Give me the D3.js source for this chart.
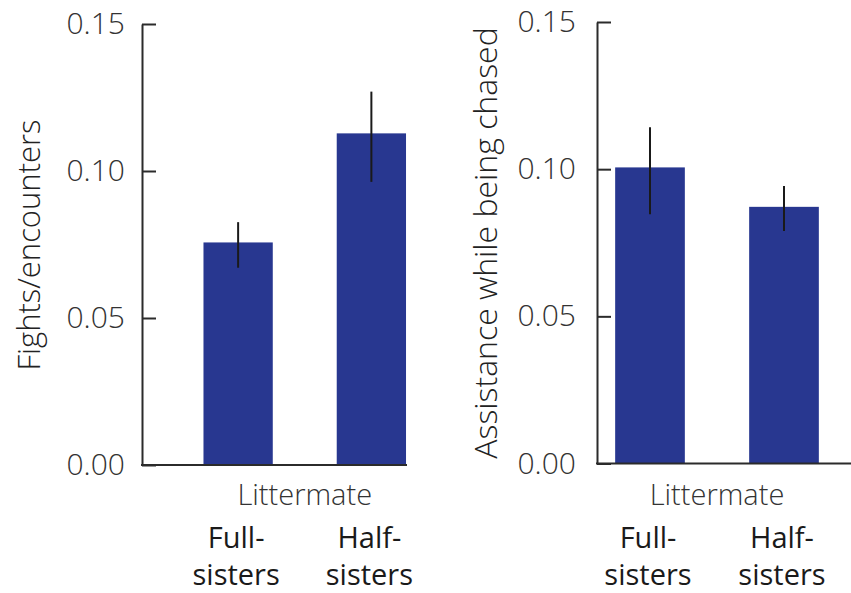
<!DOCTYPE html>
<html>
<head>
<meta charset="utf-8">
<script src="https://cdn.jsdelivr.net/npm/d3@7"></script>
<style>
  html, body { margin: 0; padding: 0; background: #fff; }
  svg { display: block; }
</style>
</head>
<body>
<svg id="chart" width="851" height="593"></svg>
<script>
// ---- data ----
const categories = ["Full-sisters", "Half-sisters"];
const categoryLines = [["Full-", "sisters"], ["Half-", "sisters"]];
const fightsValues = [0.0757, 0.1128];
const fightsErrLow = [0.0671, 0.0963];
const fightsErrHigh = [0.0826, 0.1270];
const assistValues = [0.1006, 0.0872];
const assistErrLow = [0.0847, 0.0790];
const assistErrHigh = [0.1142, 0.0943];
const yTicks = [0, 0.05, 0.10, 0.15];
const yTitles = ["Fights/encounters", "Assistance while being chased"];
const xTitle = "Littermate";

// ---- layout ----
const svg = d3.select("#chart");
const barColor = "#283790";
const axisColor = "#2b2b2b";
const lightFont = "'Open Sans', 'DejaVu Sans', sans-serif";

const panels = [
  { values: fightsValues, lo: fightsErrLow, hi: fightsErrHigh, title: yTitles[0],
    axisX: 142, lineEnd: 407, yBottom: 465, yTop: 24, band: [171.5, 438], tickPad: 17, titleX: 40, titleY: 245, titleSize: 31 },
  { values: assistValues, lo: assistErrLow, hi: assistErrHigh, title: yTitles[1],
    axisX: 597, lineEnd: 851, yBottom: 463.5, yTop: 22, band: [583, 851], tickPad: 21, titleX: 497, titleY: 243, titleSize: 32 }
];

panels.forEach(p => {
  const y = d3.scaleLinear().domain([0, 0.15]).range([p.yBottom, p.yTop]);
  const x = d3.scaleBand().domain(categories).range(p.band).paddingInner(0.48).paddingOuter(0.24);
  const g = svg.append("g");

  // bars
  g.selectAll("rect.bar").data(categories).join("rect")
    .attr("class", "bar")
    .attr("x", d => x(d))
    .attr("width", x.bandwidth())
    .attr("y", (d, i) => y(p.values[i]))
    .attr("height", (d, i) => y(0) - y(p.values[i]))
    .attr("fill", barColor);

  // error bars
  g.selectAll("line.err").data(categories).join("line")
    .attr("class", "err")
    .attr("x1", d => x(d) + x.bandwidth() / 2)
    .attr("x2", d => x(d) + x.bandwidth() / 2)
    .attr("y1", (d, i) => y(p.lo[i]))
    .attr("y2", (d, i) => y(p.hi[i]))
    .attr("stroke", "#1a1a1a")
    .attr("stroke-width", 2);

  // y axis
  const yAxis = d3.axisLeft(y).tickValues(yTicks).tickFormat(d3.format(".2f"))
    .tickSizeInner(-14).tickSizeOuter(0).tickPadding(p.tickPad);
  const ya = g.append("g").attr("transform", `translate(${p.axisX},0)`).call(yAxis);
  ya.select(".domain").attr("stroke", axisColor).attr("stroke-width", 2);
  ya.selectAll(".tick line").attr("stroke", axisColor).attr("stroke-width", 2);
  ya.selectAll(".tick text")
    .attr("fill", "#333")
    .style("font-family", lightFont)
    .style("font-weight", 300)
    .style("font-size", "30px");

  // x axis line
  g.append("line")
    .attr("x1", p.axisX - 1).attr("x2", p.lineEnd)
    .attr("y1", y(0)).attr("y2", y(0))
    .attr("stroke", axisColor).attr("stroke-width", 2);

  // y title
  g.append("text")
    .attr("transform", `translate(${p.titleX},${p.titleY}) rotate(-90)`)
    .attr("text-anchor", "middle")
    .attr("fill", "#222")
    .style("font-family", lightFont)
    .style("font-weight", 300)
    .style("font-size", p.titleSize + "px")
    .text(p.title);

  // x title
  const mid = (x(categories[0]) + x(categories[1]) + x.bandwidth()) / 2;
  g.append("text")
    .attr("x", mid).attr("y", 505)
    .attr("text-anchor", "middle")
    .attr("fill", "#333")
    .style("font-family", lightFont)
    .style("font-weight", 300)
    .style("font-size", "29px")
    .text(xTitle);

  // category labels
  categories.forEach((c, i) => {
    const t = g.append("text")
      .attr("text-anchor", "middle")
      .attr("fill", "#1a1a1a")
      .style("font-family", lightFont)
      .style("font-weight", 400)
      .style("font-size", "29px");
    categoryLines[i].forEach((line, k) => {
      t.append("tspan")
        .attr("x", x(c) + x.bandwidth() / 2 - 2)
        .attr("y", 548 + k * 37)
        .text(line);
    });
  });
});
</script>
</body>
</html>
